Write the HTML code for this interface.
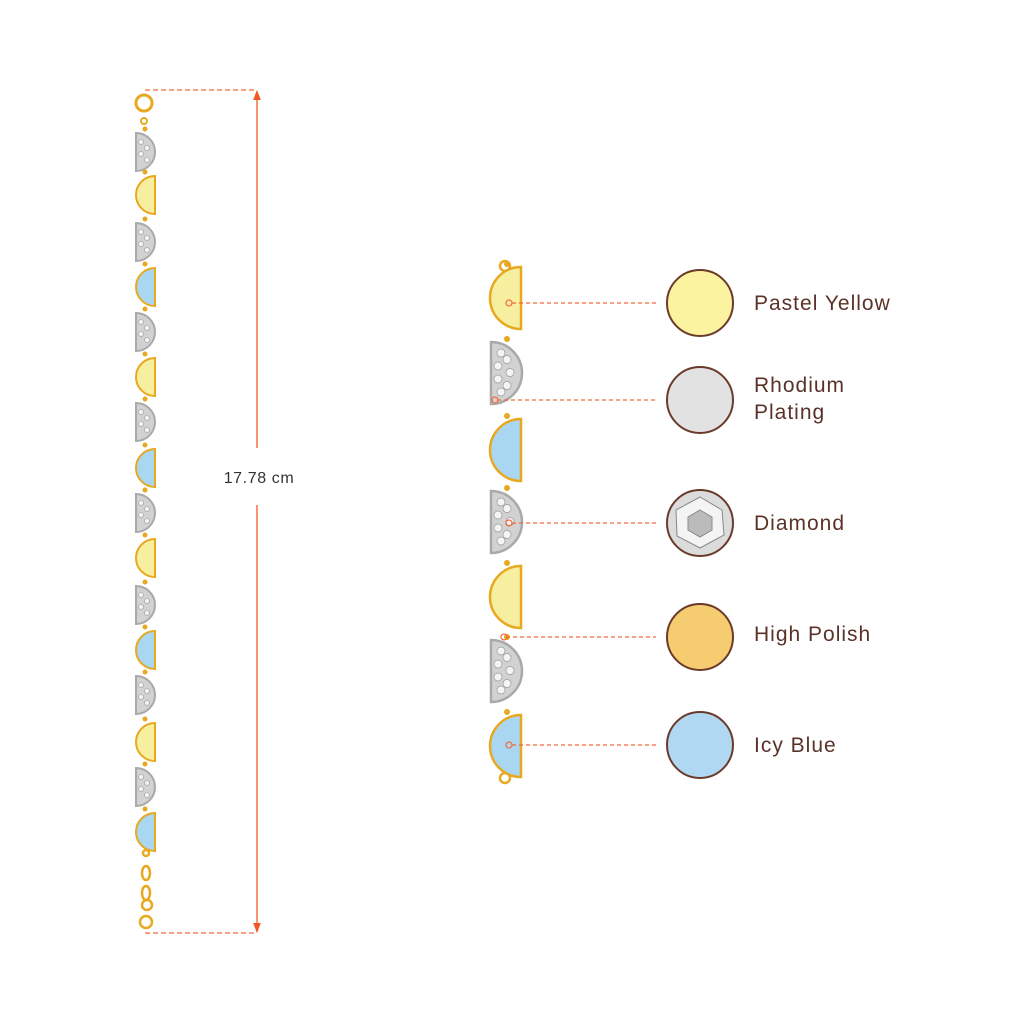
<!DOCTYPE html>
<html><head><style>
html,body{margin:0;padding:0;background:#fff;}
svg{display:block}
text{font-family:"Liberation Sans",sans-serif;}
</style></head><body>
<svg id="s" width="1024" height="1024" viewBox="0 0 1024 1024" xmlns="http://www.w3.org/2000/svg">
<defs>
<marker id="a" markerWidth="8" markerHeight="8" refX="4" refY="4" orient="auto"><path d="M0,1 L8,4 L0,7 Z" fill="#f05a22"/></marker>
</defs>
<line x1="145" y1="90" x2="257" y2="90" stroke="#f26a3a" stroke-width="1.3" stroke-dasharray="5,3"/>
<line x1="145" y1="933" x2="257" y2="933" stroke="#f26a3a" stroke-width="1.3" stroke-dasharray="5,3"/>
<line x1="257" y1="448" x2="257" y2="95" stroke="#f05a22" stroke-width="1.3" marker-end="url(#a)"/>
<line x1="257" y1="505" x2="257" y2="928" stroke="#f05a22" stroke-width="1.3" marker-end="url(#a)"/>
<text x="259" y="483" font-size="16" fill="#333" text-anchor="middle" letter-spacing="0.6">17.78 cm</text>
<circle cx="144" cy="103" r="8" fill="none" stroke="#e8a820" stroke-width="3"/>
<circle cx="144" cy="121" r="3" fill="none" stroke="#e8a820" stroke-width="2"/>
<g fill="none" stroke="#e8a820" stroke-width="2.5">
<circle cx="146" cy="853" r="3"/>
<ellipse cx="146" cy="873" rx="4" ry="7"/>
<ellipse cx="146" cy="893" rx="4" ry="7"/>
<circle cx="147" cy="905" r="5"/>
<circle cx="146" cy="922" r="6"/>
</g>
<g id="L"></g><g id="R"></g>
<g stroke="#f26a3a" stroke-width="1.2" stroke-dasharray="4,3" fill="none">
<line x1="512" y1="303" x2="656" y2="303"/>
<line x1="497" y1="400" x2="656" y2="400"/>
<line x1="512" y1="523" x2="656" y2="523"/>
<line x1="506" y1="637" x2="656" y2="637"/>
<line x1="512" y1="745" x2="656" y2="745"/>
</g>
<g stroke="#f26a3a" stroke-width="1.2" fill="none">
<circle cx="509" cy="303" r="3"/><circle cx="495" cy="400" r="3"/><circle cx="509" cy="523" r="3"/><circle cx="504" cy="637" r="3"/><circle cx="509" cy="745" r="3"/>
</g>
<g stroke="#6b3a2a" stroke-width="2">
<circle cx="700" cy="303" r="33" fill="#fbf3a0"/>
<circle cx="700" cy="400" r="33" fill="#e2e2e2"/>
<circle cx="700" cy="523" r="33" fill="#dcdcdc"/>
<circle cx="700" cy="637" r="33" fill="#f5cc70"/>
<circle cx="700" cy="745" r="33" fill="#b0d8f2"/>
</g>
<g stroke="#888" stroke-width="1" fill="#f4f4f4">
<polygon points="700,497 722,510 724,535 700,548 677,536 676,510"/>
<polygon points="700,510 712,517 712,530 700,537 688,530 688,517" fill="#bbb"/>
</g>
<g font-size="21" fill="#5a3328" letter-spacing="1">
<text x="754" y="310">Pastel Yellow</text>
<text x="754" y="392">Rhodium</text>
<text x="754" y="419">Plating</text>
<text x="754" y="530">Diamond</text>
<text x="754" y="641">High Polish</text>
<text x="754" y="752">Icy Blue</text>
</g>
</svg>
<script>
var C={y:["#f6ef9f","#e8a820"],s:["#d2d2d2","#a9a9a9"],b:["#a9d6f0","#e8a820"]};
var ns="http://www.w3.org/2000/svg";
function el(p,t,a){var e=document.createElementNS(ns,t);for(var k in a)e.setAttribute(k,a[k]);p.appendChild(e);return e;}
var L=document.getElementById("L"),R=document.getElementById("R");
var lp=[["s",152],["y",195],["s",242],["b",287],["s",332],["y",377],["s",422],["b",468],["s",513],["y",558],["s",605],["b",650],["s",695],["y",742],["s",787],["b",832]];
lp.forEach(function(p){var c=C[p[0]],y=p[1];
el(L,"circle",{cx:145,cy:y-23,r:2.5,fill:"#e8a820"});
var d=p[0]=="s"?"M136,"+(y-19)+" A19,19 0 0 1 136,"+(y+19)+" Z":"M155,"+(y-19)+" A19,19 0 0 0 155,"+(y+19)+" Z";
el(L,"path",{d:d,fill:c[0],stroke:c[1],"stroke-width":2});
if(p[0]=="s")for(var i=0;i<4;i++)el(L,"circle",{cx:141+(i%2)*6,cy:y-10+i*6,r:2.5,fill:"#f4f4f4",stroke:"#999","stroke-width":0.6});
});
var rp=[["y",298],["s",373],["b",450],["s",522],["y",597],["s",671],["b",746]];
el(R,"circle",{cx:505,cy:266,r:5,fill:"none",stroke:"#e8a820","stroke-width":2.5});
el(R,"circle",{cx:505,cy:778,r:5,fill:"none",stroke:"#e8a820","stroke-width":2.5});
rp.forEach(function(p){var c=C[p[0]],y=p[1];
el(R,"circle",{cx:507,cy:y-34,r:3,fill:"#e8a820"});
var d=p[0]=="s"?"M491,"+(y-31)+" A31,31 0 0 1 491,"+(y+31)+" Z":"M521,"+(y-31)+" A31,31 0 0 0 521,"+(y+31)+" Z";
el(R,"path",{d:d,fill:c[0],stroke:c[1],"stroke-width":2.5});
if(p[0]=="s")for(var i=0;i<7;i++)el(R,"circle",{cx:498+(i%2)*9+(i%3==0?3:0),cy:y-20+i*6.5,r:4,fill:"#f4f4f4",stroke:"#999","stroke-width":0.7});
});
</script>
</body></html>
